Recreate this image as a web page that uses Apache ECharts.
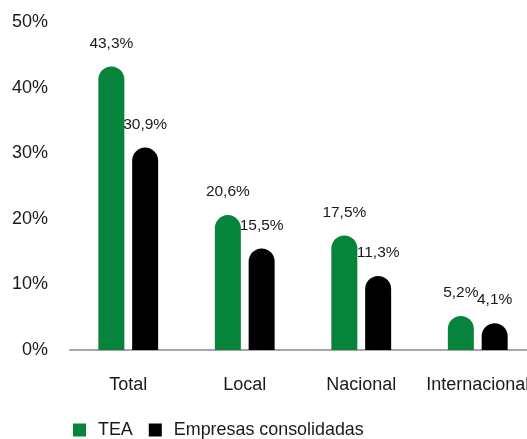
<!DOCTYPE html>
<html><head><meta charset="utf-8">
<script src="https://cdn.jsdelivr.net/npm/echarts@6/dist/echarts.min.js"></script>
<style>html,body{margin:0;padding:0;background:#fff;overflow:hidden}#c{width:540px;height:439px}</style>
</head><body><div id="c"></div>
<script>
const categories = ['Total', 'Local', 'Nacional', 'Internacional'];
const teaValues = [43.3, 20.6, 17.5, 5.2];
const consolidadasValues = [30.9, 15.5, 11.3, 4.1];
const seriesNames = ['TEA', 'Empresas consolidadas'];
const colors = ['#06843c', '#000000'];

const chart = echarts.init(document.getElementById('c'), null, {renderer: 'canvas'});
const fmt = p => p.value.toFixed(1).replace('.', ',') + '%';
const labelStyle = {
  show: true, position: 'top', distance: 15, formatter: fmt,
  fontFamily: "'Liberation Sans', Arial, sans-serif",
  fontSize: 15.5, color: '#1a1a1a'
};
chart.setOption({
  animation: false,
  grid: {left: 70, top: 22.5, width: 466, bottom: 89, containLabel: false},
  legend: {
    left: 73, top: 421, padding: 0, itemWidth: 13, itemHeight: 13, itemGap: 16,
    icon: 'rect',
    textStyle: {fontFamily: "'Liberation Sans', Arial, sans-serif", fontSize: 17.9, color: '#1a1a1a', padding: [0,0,0,7]},
    data: seriesNames
  },
  xAxis: {
    type: 'category', data: categories,
    axisLine: {lineStyle: {color: '#a6a6a6', width: 2}},
    axisTick: {show: false},
    axisLabel: {interval: 0, margin: 26, fontFamily: "'Liberation Sans', Arial, sans-serif", fontSize: 18, color: '#1a1a1a'}
  },
  yAxis: {
    type: 'value', min: 0, max: 50, interval: 10,
    splitLine: {show: false},
    axisLine: {show: false}, axisTick: {show: false},
    axisLabel: {margin: 22, formatter: '{value}%', fontFamily: "'Liberation Sans', Arial, sans-serif", fontSize: 18, color: '#1a1a1a'}
  },
  series: [
    {name: seriesNames[0], type: 'bar', data: teaValues, barWidth: 26, barGap: '30%',
     itemStyle: {color: colors[0], borderRadius: [13,13,0,0]}, label: labelStyle},
    {name: seriesNames[1], type: 'bar', data: consolidadasValues, barWidth: 26,
     itemStyle: {color: colors[1], borderRadius: [13,13,0,0]}, label: labelStyle}
  ]
});
</script></body></html>
